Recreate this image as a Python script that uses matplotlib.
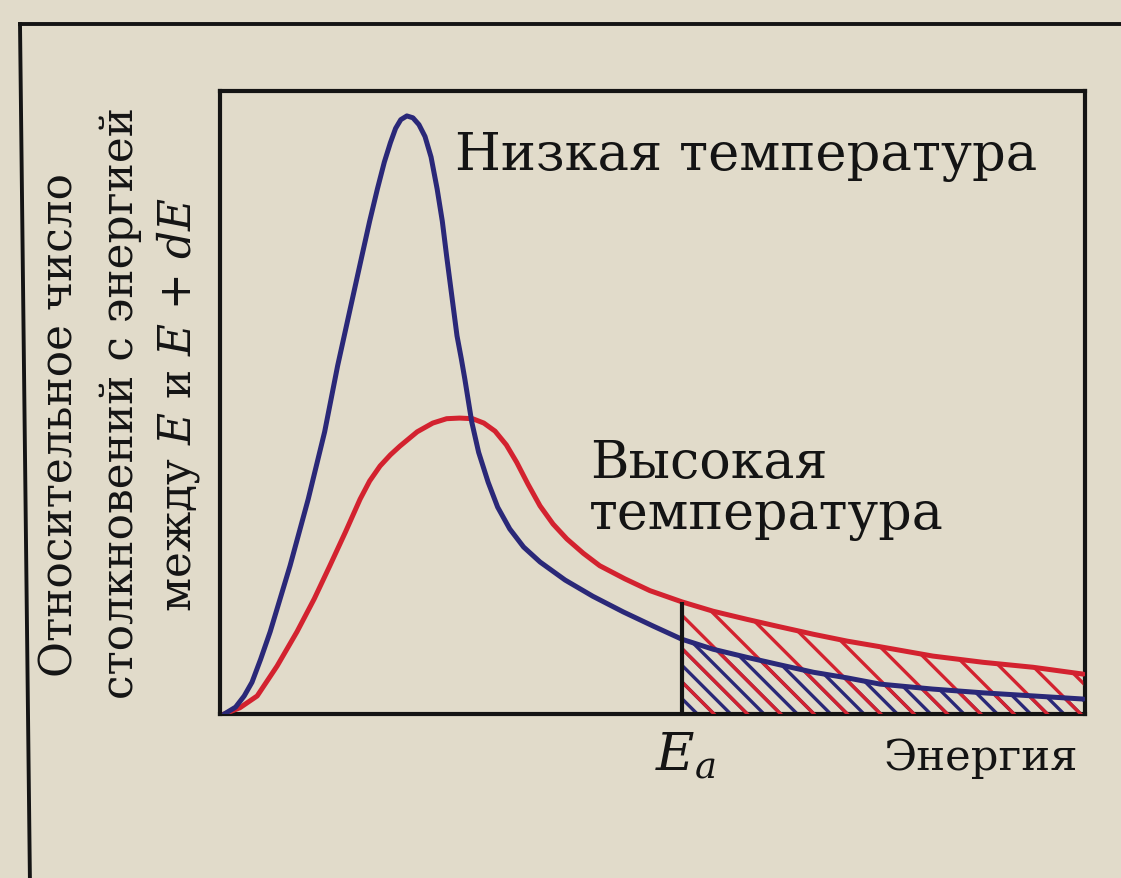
import numpy as np
import matplotlib
matplotlib.use("Agg")
import matplotlib.pyplot as plt
from matplotlib.lines import Line2D

# Energy axis in arbitrary units (0..10), relative number of collisions (0..10)
low_t_energy = [0.05, 0.18, 0.28, 0.37, 0.47, 0.58, 0.81, 1.02, 1.21, 1.36, 1.53, 1.64,
                1.73, 1.82, 1.90, 1.97, 2.03, 2.09, 2.16, 2.23, 2.30, 2.37, 2.44, 2.51,
                2.57, 2.62, 2.68, 2.74, 2.79, 2.83, 2.91, 2.99, 3.10, 3.21, 3.35, 3.51,
                3.70, 3.99, 4.31, 4.66, 5.01, 5.34, 5.70, 6.09, 6.47, 6.86, 7.25, 7.63,
                8.24, 8.82, 9.40, 9.98]
low_t_count = [0.00, 0.11, 0.29, 0.51, 0.88, 1.32, 2.38, 3.45, 4.53, 5.59, 6.66, 7.35,
               7.91, 8.43, 8.86, 9.17, 9.40, 9.54, 9.60, 9.57, 9.46, 9.27, 8.94, 8.43,
               7.91, 7.35, 6.71, 6.07, 5.70, 5.38, 4.69, 4.20, 3.72, 3.32, 2.97, 2.68,
               2.44, 2.15, 1.89, 1.64, 1.41, 1.20, 1.04, 0.91, 0.79, 0.67, 0.58, 0.48,
               0.40, 0.34, 0.29, 0.24]

high_t_energy = [0.05, 0.23, 0.43, 0.66, 0.89, 1.09, 1.27, 1.45, 1.62, 1.73, 1.85, 1.97,
                 2.08, 2.28, 2.46, 2.62, 2.77, 2.92, 3.05, 3.18, 3.31, 3.43, 3.56, 3.70,
                 3.85, 4.01, 4.20, 4.39, 4.68, 4.97, 5.34, 5.70, 6.09, 6.47, 6.86, 7.25,
                 7.63, 8.24, 8.82, 9.40, 9.98]
high_t_count = [0.00, 0.10, 0.29, 0.77, 1.32, 1.85, 2.38, 2.92, 3.45, 3.74, 3.98, 4.16,
                4.30, 4.53, 4.67, 4.74, 4.75, 4.74, 4.67, 4.54, 4.32, 4.04, 3.69, 3.34,
                3.05, 2.81, 2.58, 2.38, 2.17, 1.98, 1.80, 1.65, 1.52, 1.40, 1.28, 1.17,
                1.08, 0.93, 0.83, 0.75, 0.64]

activation_energy = 5.34

bg = "#e1dbca"
blue = "#2a2878"
red = "#d3222f"
ink = "#141414"
serif = ["DejaVu Serif"]

plt.rcParams["font.family"] = serif
plt.rcParams["mathtext.fontset"] = "custom"
plt.rcParams["mathtext.rm"] = "DejaVu Serif"
plt.rcParams["mathtext.it"] = "DejaVu Serif:italic"
plt.rcParams["hatch.linewidth"] = 1.2

W, H = 1121, 879
fig = plt.figure(figsize=(W / 200, H / 200), dpi=200)
fig.patch.set_facecolor(bg)

ax = fig.add_axes([220 / W, 1 - 715 / H, 865 / W, 623 / H])
ax.set_facecolor(bg)
ax.set_xlim(0, 10)
ax.set_ylim(0, 10)
ax.set_xticks([])
ax.set_yticks([])
for s in ax.spines.values():
    s.set_linewidth(1.5)
    s.set_color(ink)

lx = np.array(low_t_energy)
ly = np.array(low_t_count)
hx = np.array(high_t_energy)
hy = np.array(high_t_count)

# shaded tails above the activation energy (red drawn over a denser blue hatch)
ml = lx >= activation_energy
mh = hx >= activation_energy
ax.fill_between(lx[ml], 0, ly[ml], facecolor="none", edgecolor=blue,
                hatch="\\\\\\\\", linewidth=0, zorder=2)
ax.fill_between(hx[mh], 0, hy[mh], facecolor="none", edgecolor=red,
                hatch="\\\\", linewidth=0, zorder=3)

ax.plot(hx, hy, color=red, lw=1.8, solid_capstyle="round",
        solid_joinstyle="round", zorder=4)
ax.plot(lx, ly, color=blue, lw=1.8, solid_capstyle="round",
        solid_joinstyle="round", zorder=5)

ea_top = hy[hx == activation_energy][0]
ax.vlines(activation_energy, 0, ea_top, color=ink, lw=1.5, zorder=6)

# curve labels
fig.text(455 / W, 1 - 170 / H, "Низкая температура", fontsize=19,
         color=ink, ha="left", va="baseline")
fig.text(590 / W, 1 - 478 / H, "Высокая", fontsize=18.8,
         color=ink, ha="left", va="baseline")
fig.text(589 / W, 1 - 529 / H, "температура", fontsize=18.8,
         color=ink, ha="left", va="baseline")

fig.text(1078 / W, 1 - 770 / H, "Энергия", fontsize=15.6, color=ink,
         ha="right", va="baseline")
fig.text(655 / W, 1 - 770 / H, r"$E_a$", fontsize=19, color=ink,
         ha="left", va="baseline")

# y axis caption, three rotated lines
ylab = ["Относительное число",
        "столкновений с энергией",
        r"между $E$ и $E$ + $dE$"]
for xc, yc, txt in zip([60, 120, 178], [425, 403, 405], ylab):
    fig.text(xc / W, 1 - yc / H, txt, fontsize=15.8, color=ink,
             rotation=90, ha="center", va="center")

# page frame around the figure
fig.add_artist(Line2D([20 / W, 1.01], [1 - 25 / H, 1 - 25 / H],
                      color=ink, lw=1.4, transform=fig.transFigure))
fig.add_artist(Line2D([20 / W, 30 / W], [1 - 25 / H, -0.01],
                      color=ink, lw=1.4, transform=fig.transFigure))

fig.savefig("out.png", dpi=200, facecolor=bg)
